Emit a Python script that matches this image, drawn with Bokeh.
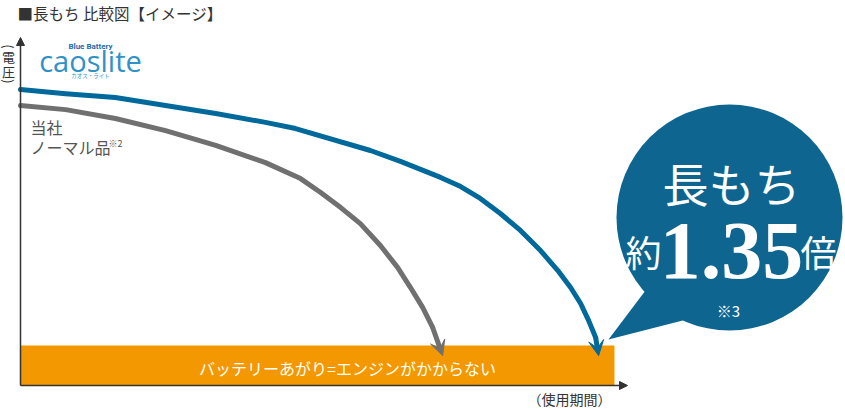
import math
from bokeh.plotting import figure
from bokeh.models import Range1d, Arrow, VeeHead, NormalHead
from bokeh.core.properties import value
from bokeh.embed import file_html
from bokeh.resources import INLINE

# ---- data (usage period in relative units, voltage in relative units) ----
time_caos = [0.000, 0.108, 0.227, 0.347, 0.467, 0.586, 0.658, 0.837, 0.909, 1.005, 1.053,
             1.100, 1.148, 1.196, 1.244, 1.285, 1.316, 1.340, 1.359, 1.376, 1.383]
volt_caos = [100.0, 98.6, 97.3, 94.6, 91.9, 88.9, 86.8, 79.4, 75.7, 70.3, 67.2,
             63.2, 58.1, 52.4, 45.6, 38.9, 33.1, 27.7, 22.0, 16.2, 10.1]

time_normal = [0.000, 0.108, 0.227, 0.347, 0.467, 0.586, 0.670, 0.718, 0.766, 0.813,
               0.861, 0.902, 0.933, 0.962, 0.986, 1.010]
volt_normal = [94.6, 93.2, 90.2, 86.1, 81.1, 75.3, 69.9, 65.2, 60.1, 54.7,
               47.3, 39.9, 33.1, 26.4, 19.6, 10.1]

dead_voltage = [13.5]      # battery dead threshold
dead_period_end = [1.421]  # extent of the band

title_text = "■長もち 比較図【イメージ】"
x_label = "（使用期間）"
y_label = ["(", "電", "圧", ")"]
band_text = "バッテリーあがり=エンジンがかからない"
normal_label = ["当社", "ノーマル品"]
note2 = "※2"
bubble_lines = ["長もち", "約", "1.35", "倍", "※3"]

# ---- layout helpers (page pixel -> data) ----
X0, Y0, SX, SY = 20.0, 385.0, 418.0, 2.96
W, H = 845, 409
def dx(X):
    return (X - X0) / SX
def dy(Y):
    return (Y0 - Y) / SY

BLUE = "#00699C"
BUBBLE = "#0E6590"
GRAY = "#707070"
ORANGE = "#F39800"
AXIS = "#333333"
LOGO = "#3090C8"
JP = value("Noto Sans CJK JP")

p = figure(width=W, height=H, output_backend="svg", toolbar_location=None,
           x_range=Range1d(dx(0), dx(W)), y_range=Range1d(dy(H), dy(0)),
           x_axis_location=None, y_axis_location=None, min_border=0)
p.grid.visible = False
p.outline_line_color = None
p.background_fill_color = "white"

# band
p.quad(left=[0], right=dead_period_end, bottom=[0], top=dead_voltage,
       fill_color=ORANGE, line_color=None)
p.text(x=[dx(347)], y=[dy(367)], text=[band_text], text_font=JP, text_font_size="16px",
       text_color="white", text_align="center", text_baseline="middle")

# curves
for t, v, col in [(time_normal, volt_normal, GRAY), (time_caos, volt_caos, BLUE)]:
    p.line(t[:-1], v[:-1], line_color=col, line_width=5, line_cap="round", line_join="round")
    p.add_layout(Arrow(x_start=t[-2], y_start=v[-2], x_end=t[-1], y_end=v[-1],
                       line_color=col, line_width=5,
                       end=VeeHead(size=15, fill_color=col, line_color=col, line_width=1)))

# axes
p.add_layout(Arrow(x_start=0, y_start=0, x_end=0, y_end=dy(37), line_color=AXIS, line_width=1.5,
                   end=NormalHead(size=8, fill_color=AXIS, line_color=AXIS, line_width=1)))
p.add_layout(Arrow(x_start=0, y_start=0, x_end=dx(627), y_end=0, line_color=AXIS, line_width=1.5,
                   end=NormalHead(size=8, fill_color=AXIS, line_color=AXIS, line_width=1)))

# title and axis labels
p.text(x=[dx(17)], y=[dy(12.5)], text=[title_text], text_font=JP, text_font_size="15.5px",
       text_color="#333333", text_align="left", text_baseline="middle")
p.text(x=[dx(569)], y=[dy(398)], text=[x_label], text_font=JP, text_font_size="14px",
       text_color="#333333", text_align="center", text_baseline="middle")
p.text(x=[dx(8), dx(8)], y=[dy(56), dy(71)], text=y_label[1:3], text_font=JP,
       text_font_size="13px", text_color="#333333", text_align="center", text_baseline="middle")
p.text(x=[dx(8), dx(8)], y=[dy(46), dy(81)], text=[y_label[0], y_label[3]], text_font=JP,
       text_font_size="13px", text_color="#333333", text_align="center", text_baseline="middle",
       angle=-math.pi / 2)

# logo
p.text(x=[dx(90)], y=[dy(45.5)], text=["Blue Battery"], text_font=value("Roboto"), text_font_size="8px",
       text_font_style="bold", text_color="#1F6DB0", text_align="center", text_baseline="middle")
p.text(x=[dx(90)], y=[dy(59.5)], text=["caoslite"], text_font=value("Open Sans"), text_font_size="29px",
       text_color=LOGO, text_align="center", text_baseline="middle")
p.text(x=[dx(90)], y=[dy(75.5)], text=["カオス・ライト"], text_font=JP, text_font_size="5.5px",
       text_color=LOGO, text_align="center", text_baseline="middle")

# normal label
p.text(x=[dx(30), dx(30)], y=[dy(126), dy(146)], text=normal_label, text_font=JP, text_font_size="16px",
       text_color="#555555", text_align="left", text_baseline="middle")
p.text(x=[dx(108)], y=[dy(143)], text=[note2], text_font=JP, text_font_size="9px",
       text_color="#555555", text_align="left", text_baseline="middle")

# speech bubble
p.patch(x=[dx(608), dx(645), dx(690)], y=[dy(339), dy(290), dy(318)], fill_color=BUBBLE, line_color=None)
p.scatter(x=[dx(729)], y=[dy(217)], size=226, marker="circle", fill_color=BUBBLE, line_color=None)
p.text(x=[dx(731)], y=[dy(181)], text=[bubble_lines[0]], text_font=JP, text_font_size="46px",
       text_color="white", text_align="center", text_baseline="middle")
p.text(x=[dx(643), dx(818)], y=[dy(250), dy(250)], text=[bubble_lines[1], bubble_lines[3]], text_font=JP,
       text_font_size="36px", text_color="white", text_align="center", text_baseline="middle")
p.text(x=[dx(731)], y=[dy(250)], text=[bubble_lines[2]], text_font=value("Liberation Serif"),
       text_font_size="82px", text_font_style="bold", text_color="white",
       text_align="center", text_baseline="middle")
p.text(x=[dx(728)], y=[dy(310)], text=[bubble_lines[4]], text_font=JP, text_font_size="15px",
       text_color="white", text_align="center", text_baseline="middle")

open("out.html", "w").write(file_html(p, INLINE))
